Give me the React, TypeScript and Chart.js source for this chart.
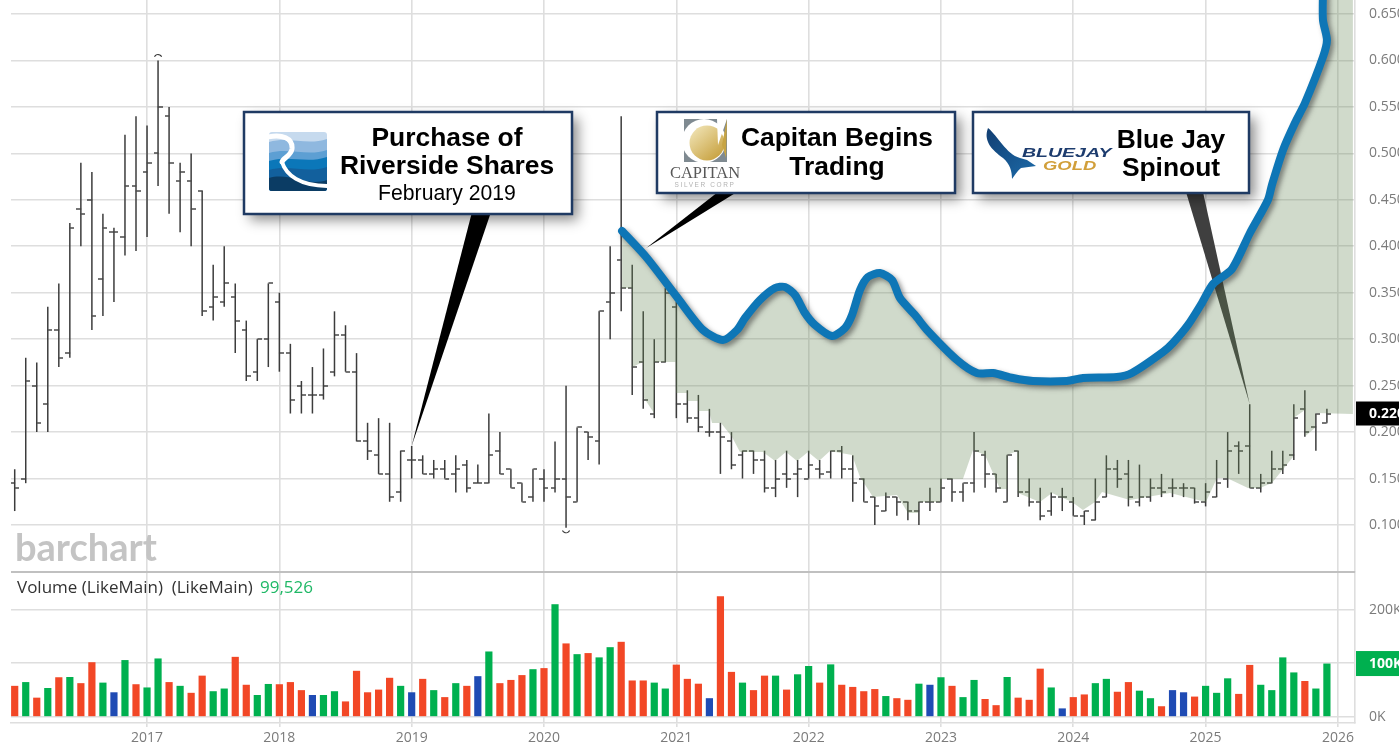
import React, { useEffect, useRef } from "react";
import { Chart, registerables } from "chart.js";

Chart.register(...registerables);

const firstYear = 2016;
const yearTicks = [2017, 2018, 2019, 2020, 2021, 2022, 2023, 2024, 2025, 2026];
const priceTicks = [0.1, 0.15, 0.2, 0.25, 0.3, 0.35, 0.4, 0.45, 0.5, 0.55, 0.6, 0.65];
const volumeTicks = [0, 100000, 200000];

const opens = [
  0.145, 0.15, 0.25, 0.23, 0.31, 0.285, 0.44, 0.45, 0.365, 0.415, 0.41, 0.465,
  0.48, 0.5, 0.54, 0.47, 0.47, 0.46, 0.335, 0.34, 0.345, 0.31, 0.265, 0.3,
  0.34, 0.285, 0.25, 0.24, 0.24, 0.265, 0.305, 0.265, 0.19, 0.175, 0.155, 0.135,
  0.17, 0.17, 0.155, 0.16, 0.155, 0.165, 0.145, 0.145, 0.18, 0.16, 0.145, 0.13,
  0.15, 0.14, 0.15, 0.125, 0.2, 0.19, 0.34, 0.385, 0.355, 0.275, 0.22, 0.275,
  0.335, 0.23, 0.215, 0.2, 0.2, 0.19, 0.175, 0.18, 0.17, 0.14, 0.155, 0.155,
  0.15, 0.16, 0.157, 0.18, 0.16, 0.15, 0.13, 0.115, 0.13, 0.125, 0.115, 0.125,
  0.125, 0.15, 0.135, 0.145, 0.175, 0.155, 0.125, 0.18, 0.135, 0.125, 0.115, 0.13,
  0.125, 0.11, 0.105, 0.13, 0.16, 0.155, 0.125, 0.13, 0.14, 0.14, 0.14, 0.14,
  0.125, 0.13, 0.15, 0.185, 0.185, 0.14, 0.145, 0.16, 0.175, 0.225, 0.205, 0.21,
];
const highs = [
  0.16, 0.28, 0.275, 0.335, 0.36, 0.425, 0.49, 0.48, 0.435, 0.42, 0.52, 0.54,
  0.53, 0.6, 0.55, 0.49, 0.5, 0.46, 0.38, 0.4, 0.36, 0.32, 0.3, 0.36,
  0.35, 0.295, 0.255, 0.27, 0.29, 0.33, 0.315, 0.285, 0.21, 0.215, 0.21, 0.18,
  0.185, 0.175, 0.17, 0.17, 0.175, 0.17, 0.165, 0.22, 0.2, 0.16, 0.145, 0.16,
  0.16, 0.19, 0.25, 0.205, 0.2, 0.33, 0.4, 0.54, 0.38, 0.33, 0.3, 0.355,
  0.34, 0.245, 0.24, 0.225, 0.21, 0.2, 0.18, 0.18, 0.18, 0.17, 0.18, 0.17,
  0.18, 0.17, 0.18, 0.185, 0.175, 0.15, 0.13, 0.135, 0.13, 0.125, 0.125, 0.14,
  0.15, 0.15, 0.145, 0.2, 0.18, 0.155, 0.175, 0.18, 0.15, 0.14, 0.135, 0.14,
  0.13, 0.115, 0.15, 0.175, 0.17, 0.17, 0.165, 0.15, 0.155, 0.15, 0.145, 0.14,
  0.145, 0.17, 0.2, 0.19, 0.23, 0.155, 0.18, 0.18, 0.23, 0.245, 0.22, 0.225,
];
const lows = [
  0.115, 0.145, 0.2, 0.2, 0.27, 0.28, 0.4, 0.31, 0.325, 0.34, 0.39, 0.395,
  0.41, 0.465, 0.435, 0.415, 0.4, 0.325, 0.32, 0.335, 0.285, 0.255, 0.255, 0.27,
  0.265, 0.22, 0.22, 0.22, 0.235, 0.26, 0.265, 0.19, 0.17, 0.155, 0.125, 0.125,
  0.15, 0.155, 0.15, 0.15, 0.135, 0.135, 0.145, 0.145, 0.155, 0.14, 0.125, 0.125,
  0.125, 0.135, 0.097, 0.125, 0.17, 0.165, 0.3, 0.33, 0.24, 0.225, 0.215, 0.275,
  0.215, 0.21, 0.2, 0.195, 0.155, 0.16, 0.15, 0.155, 0.135, 0.13, 0.14, 0.13,
  0.15, 0.15, 0.15, 0.15, 0.125, 0.125, 0.1, 0.115, 0.11, 0.105, 0.1, 0.115,
  0.125, 0.125, 0.125, 0.135, 0.14, 0.135, 0.125, 0.13, 0.12, 0.105, 0.11, 0.115,
  0.11, 0.1, 0.105, 0.13, 0.14, 0.12, 0.12, 0.125, 0.13, 0.13, 0.13, 0.123,
  0.12, 0.13, 0.14, 0.155, 0.14, 0.135, 0.145, 0.155, 0.17, 0.195, 0.18, 0.21,
];
const closes = [
  0.14, 0.255, 0.21, 0.31, 0.28, 0.42, 0.435, 0.325, 0.42, 0.415, 0.465, 0.46,
  0.49, 0.55, 0.49, 0.48, 0.44, 0.33, 0.345, 0.36, 0.32, 0.26, 0.3, 0.36,
  0.285, 0.235, 0.24, 0.24, 0.25, 0.305, 0.265, 0.19, 0.18, 0.155, 0.13, 0.18,
  0.17, 0.155, 0.16, 0.15, 0.16, 0.14, 0.145, 0.175, 0.155, 0.14, 0.125, 0.16,
  0.14, 0.15, 0.13, 0.205, 0.195, 0.33, 0.35, 0.355, 0.27, 0.235, 0.275, 0.35,
  0.23, 0.215, 0.205, 0.2, 0.195, 0.165, 0.18, 0.17, 0.14, 0.15, 0.15, 0.16,
  0.165, 0.155, 0.18, 0.16, 0.145, 0.125, 0.12, 0.13, 0.125, 0.115, 0.125, 0.125,
  0.14, 0.135, 0.145, 0.18, 0.155, 0.14, 0.175, 0.135, 0.125, 0.11, 0.13, 0.13,
  0.11, 0.115, 0.125, 0.16, 0.15, 0.13, 0.13, 0.14, 0.135, 0.14, 0.14, 0.125,
  0.135, 0.145, 0.18, 0.18, 0.14, 0.145, 0.16, 0.165, 0.215, 0.2, 0.22, 0.22,
];
const volumes = [
  58000, 65000, 36000, 54000, 74000, 74500, 63000, 102000, 64000, 46000, 106000, 61000,
  55000, 109000, 65000, 58000, 45000, 77000, 48000, 53000, 112000, 60000, 41000, 61500,
  61000, 65000, 50000, 41000, 41000, 48000, 29000, 86000, 46000, 51000, 73000, 58000,
  46000, 71000, 50000, 37000, 63000, 58000, 76000, 122000, 63000, 69000, 78000, 89000,
  91000, 210000, 137000, 117000, 119000, 111000, 130000, 140000, 68000, 68000, 64000, 53000,
  97500, 71000, 62000, 35000, 225000, 84000, 64000, 50000, 77000, 77000, 51000, 79500,
  95000, 64000, 98000, 60000, 56000, 48000, 52000, 39000, 35000, 32000, 62000, 60000,
  74000, 58000, 37000, 69000, 33500, 22000, 74500, 36000, 32000, 90000, 55000, 16000,
  37000, 42000, 63000, 71000, 47000, 65000, 49000, 35000, 20000, 50000, 46000, 38000,
  58000, 45000, 72000, 43000, 97000, 60000, 50000, 111000, 83000, 67000, 53000, 99526,
];
const volumeKindList = [
  "r", "g", "r", "g", "r", "g", "r", "r", "g", "b", "g", "r",
  "g", "g", "r", "g", "r", "r", "g", "g", "r", "r", "g", "g",
  "r", "r", "r", "b", "g", "g", "r", "r", "r", "r", "r", "g",
  "b", "r", "g", "r", "g", "r", "b", "g", "r", "r", "r", "g",
  "r", "g", "r", "g", "r", "g", "g", "r", "r", "r", "g", "g",
  "r", "r", "r", "b", "r", "r", "g", "r", "r", "g", "r", "g",
  "g", "r", "g", "r", "r", "r", "r", "g", "r", "r", "g", "b",
  "g", "r", "g", "g", "r", "r", "g", "r", "r", "r", "g", "b",
  "r", "r", "g", "g", "r", "r", "g", "g", "r", "b", "b", "r",
  "g", "g", "g", "r", "r", "g", "g", "g", "g", "r", "g", "g",
];

const trendYears = [
  2020.59, 2020.778, 2021.005, 2021.202, 2021.353, 2021.459, 2021.519, 2021.632, 2021.746, 2021.821,
  2021.897, 2021.972, 2022.048, 2022.176, 2022.275, 2022.328, 2022.388, 2022.448, 2022.539, 2022.63,
  2022.69, 2022.804, 2022.894, 2023.121, 2023.272, 2023.393, 2023.544, 2023.695, 2023.952, 2024.073,
  2024.33, 2024.443, 2024.678, 2024.753, 2024.867, 2024.972, 2025.056, 2025.199, 2025.335, 2025.471,
  2025.501, 2025.585, 2025.675, 2025.751, 2025.887, 2025.917, 2025.887, 2025.887,
];
const trendPrices = [
  0.4164, 0.3874, 0.3454, 0.3099, 0.2991, 0.3099, 0.3228, 0.3422, 0.3551, 0.3562,
  0.3476, 0.3282, 0.3153, 0.3034, 0.312, 0.326, 0.3529, 0.3669, 0.3712, 0.3637,
  0.3443, 0.326, 0.3099, 0.2776, 0.2636, 0.2636, 0.2582, 0.255, 0.255, 0.2582,
  0.2593, 0.2636, 0.2862, 0.2959, 0.3153, 0.3389, 0.3594, 0.3755, 0.4143, 0.4498,
  0.4659, 0.5036, 0.5327, 0.5542, 0.6037, 0.622, 0.6435, 0.6758,
];
const shadeTopYears = [2025.918, 2026.113];
const shadeTopPrices = [0.69, 0.69];
const shadeLowerYears = [
  2020.59, 2020.591, 2020.665, 2020.669, 2020.748, 2020.756, 2020.831, 2020.835, 2020.994, 2020.998,
  2021.081, 2021.088, 2021.164, 2021.171, 2021.247, 2021.27, 2021.338, 2021.421, 2021.481, 2021.655,
  2021.746, 2021.829, 2021.912, 2021.995, 2022.078, 2022.161, 2022.328, 2022.388, 2022.486, 2022.668,
  2022.751, 2022.826, 2022.834, 2022.993, 2023.008, 2023.166, 2023.242, 2023.333, 2023.446, 2023.499,
  2023.503, 2023.574, 2023.582, 2023.748, 2023.839, 2023.99, 2024.073, 2024.164, 2024.217, 2024.428,
  2024.731, 2025.003, 2025.086, 2025.161, 2025.32, 2025.411, 2025.501, 2025.66, 2025.664, 2025.751,
  2025.755, 2025.826, 2025.83, 2026.113,
];
const shadeLowerPrices = [
  0.4164, 0.3551, 0.3551, 0.2701, 0.2754, 0.2367, 0.2205, 0.2754, 0.2754, 0.2421,
  0.2421, 0.2335, 0.2335, 0.2227, 0.2227, 0.2098, 0.2098, 0.1947, 0.1786, 0.1786,
  0.1689, 0.1786, 0.1689, 0.1786, 0.1689, 0.1796, 0.1753, 0.1517, 0.1301, 0.1323,
  0.1129, 0.1129, 0.1248, 0.1248, 0.1495, 0.1495, 0.1807, 0.1753, 0.1387, 0.1387,
  0.1753, 0.1796, 0.1344, 0.1248, 0.1344, 0.1248, 0.1161, 0.1248, 0.1355, 0.1269,
  0.1344, 0.1248, 0.1506, 0.1506, 0.1398, 0.1398, 0.1452, 0.1732, 0.2152, 0.2238,
  0.1958, 0.2044, 0.2205, 0.2195,
];

const lastPriceLabel = "0.220";
const lastVolumeLabel = "100K";
const lastPrice = 0.22;
const lastVolume = 99526;
const volumeTitle = "Volume (LikeMain)  (LikeMain) ";
const volumeValueText = "99,526";

const C = {
  grid: "#dedede",
  tickText: "#7b7b7b",
  bar: "#3c3c3c",
  red: "#f24726",
  green: "#00b04f",
  blue: "#1f4bb4",
  trend: "#0e76b6",
  shade: "rgba(100,132,82,0.3)",
  navy: "#1f3a63",
};
const UI = "'Open Sans', sans-serif";
const BOLD = "'Liberation Sans', Arial, sans-serif";

const yearOf = (i: number) => firstYear + i / 12;

function tickSprite(left: boolean) {
  const c = document.createElement("canvas");
  c.width = 9;
  c.height = 2;
  const g = c.getContext("2d")!;
  g.fillStyle = C.bar;
  g.fillRect(left ? 0 : 4.5, 0.3, 4.5, 1.4);
  return c;
}

function roundedPath(ctx: CanvasRenderingContext2D, x: number, y: number, w: number, h: number, r: number) {
  ctx.beginPath();
  ctx.moveTo(x + r, y);
  ctx.arcTo(x + w, y, x + w, y + h, r);
  ctx.arcTo(x + w, y + h, x, y + h, r);
  ctx.arcTo(x, y + h, x, y, r);
  ctx.arcTo(x, y, x + w, y, r);
  ctx.closePath();
}

function drawBox(ctx: CanvasRenderingContext2D, x: number, y: number, w: number, h: number) {
  ctx.save();
  ctx.shadowColor = "rgba(0,0,0,0.45)";
  ctx.shadowBlur = 12;
  ctx.shadowOffsetX = 6;
  ctx.shadowOffsetY = 6;
  ctx.fillStyle = "#fff";
  ctx.fillRect(x, y, w, h);
  ctx.restore();
  ctx.strokeStyle = C.navy;
  ctx.lineWidth = 2.5;
  ctx.strokeRect(x, y, w, h);
}

function drawRiverside(ctx: CanvasRenderingContext2D) {
  const x = 269, y = 132, w = 58, h = 59;
  ctx.save();
  roundedPath(ctx, x, y, w, h, 3);
  ctx.clip();
  ctx.fillStyle = "#c6daee";
  ctx.fillRect(x, y, w, h);
  const bands: [number, number, string][] = [
    [142, 139, "#8fb8df"],
    [153, 150, "#5d9fd3"],
    [161, 157, "#0b77b9"],
    [170, 167, "#12609d"],
    [178, 180, "#0b3c64"],
  ];
  for (const [a, b, col] of bands) {
    ctx.beginPath();
    ctx.moveTo(x, a);
    ctx.bezierCurveTo(x + 20, a - 6, x + 38, b + 7, x + w, b);
    ctx.lineTo(x + w, y + h);
    ctx.lineTo(x, y + h);
    ctx.closePath();
    ctx.fillStyle = col;
    ctx.fill();
  }
  ctx.strokeStyle = "#fff";
  ctx.lineCap = "round";
  ctx.lineWidth = 5;
  ctx.beginPath();
  ctx.moveTo(268, 137);
  ctx.bezierCurveTo(282, 134, 293, 138, 292, 149);
  ctx.bezierCurveTo(291, 156, 283, 158, 282, 162);
  ctx.stroke();
  ctx.lineWidth = 4;
  ctx.beginPath();
  ctx.moveTo(282, 162);
  ctx.bezierCurveTo(286, 175, 300, 186, 328, 186);
  ctx.stroke();
  ctx.restore();
}

function drawCapitan(ctx: CanvasRenderingContext2D) {
  ctx.save();
  ctx.fillStyle = "#7f8a91";
  ctx.fillRect(684, 119, 43, 43);
  ctx.fillStyle = "#fff";
  ctx.beginPath();
  ctx.arc(704, 141, 22, 0, Math.PI * 2);
  ctx.fill();
  const gold = ctx.createLinearGradient(694, 125, 724, 160);
  gold.addColorStop(0, "#f1e5b8");
  gold.addColorStop(1, "#c39a32");
  ctx.fillStyle = gold;
  ctx.beginPath();
  ctx.arc(707, 143, 17.5, 0, Math.PI * 2);
  ctx.fill();
  ctx.fillStyle = "#fff";
  ctx.beginPath();
  ctx.moveTo(727, 119);
  ctx.lineTo(717, 119);
  ctx.lineTo(718, 145);
  ctx.closePath();
  ctx.fill();
  ctx.fillStyle = "#c7a443";
  ctx.beginPath();
  ctx.moveTo(727, 119);
  ctx.lineTo(722, 145);
  ctx.lineTo(726, 158);
  ctx.closePath();
  ctx.fill();
  ctx.textAlign = "center";
  ctx.textBaseline = "alphabetic";
  ctx.fillStyle = "#585858";
  ctx.font = "16.5px 'Liberation Serif', serif";
  ctx.fillText("CAPITAN", 705, 178, 72);
  ctx.fillStyle = "#b3b3b3";
  ctx.font = "6.5px 'Liberation Sans', sans-serif";
  (ctx as any).letterSpacing = "1.6px";
  ctx.fillText("SILVER CORP", 705, 187);
  (ctx as any).letterSpacing = "0px";
  ctx.restore();
}

function drawBlueJay(ctx: CanvasRenderingContext2D) {
  ctx.save();
  const g = ctx.createLinearGradient(988, 128, 1035, 178);
  g.addColorStop(0, "#123f73");
  g.addColorStop(1, "#1c6aa8");
  ctx.fillStyle = g;
  ctx.beginPath();
  ctx.moveTo(988, 128);
  ctx.bezierCurveTo(998, 136, 1006, 154, 1020, 158);
  ctx.lineTo(1027, 160);
  ctx.lineTo(1036, 166);
  ctx.lineTo(1021, 168);
  ctx.bezierCurveTo(1017, 171, 1015, 175, 1012, 179);
  ctx.bezierCurveTo(1012, 171, 1010, 164, 1003, 158);
  ctx.bezierCurveTo(992, 150, 983, 141, 988, 128);
  ctx.closePath();
  ctx.fill();
  ctx.textAlign = "left";
  ctx.textBaseline = "alphabetic";
  ctx.font = "italic bold 13px 'Liberation Sans', sans-serif";
  ctx.fillStyle = "#1d3c6e";
  ctx.save();
  ctx.translate(1022, 157);
  ctx.scale(1.5, 1);
  ctx.fillText("BLUEJAY", 0, 0);
  ctx.restore();
  ctx.fillStyle = "#d19f3a";
  ctx.save();
  ctx.translate(1043, 170);
  ctx.scale(1.42, 1);
  ctx.fillText("GOLD", 0, 0);
  ctx.restore();
  ctx.restore();
}

function boxLines(ctx: CanvasRenderingContext2D, cx: number, lines: [string, number, string][]) {
  ctx.textAlign = "center";
  ctx.textBaseline = "alphabetic";
  ctx.fillStyle = "#000";
  for (const [t, y, font] of lines) {
    ctx.font = font;
    ctx.fillText(t, cx, y);
  }
}

function wedge(
  ctx: CanvasRenderingContext2D,
  x1: number,
  x2: number,
  baseY: number,
  tipX: number,
  tipY: number,
  fill: string
) {
  ctx.fillStyle = fill;
  ctx.beginPath();
  ctx.moveTo(x1, baseY);
  ctx.lineTo(x2, baseY);
  ctx.lineTo(tipX, tipY);
  ctx.closePath();
  ctx.fill();
}

const TREND_DATASET = 5;

const overlay = {
  id: "overlay",
  beforeDatasetsDraw(chart: any) {
    const { ctx, scales } = chart;
    const { x, yPrice, yVol } = scales;
    ctx.save();
    ctx.fillStyle = "#c0c0c0";
    ctx.fillRect(x.left, yVol.top - 1, x.right - x.left, 2);
    wedge(ctx, 472, 491, 212, x.getPixelForValue(yearOf(36)), yPrice.getPixelForValue(highs[36]), "#000");
    wedge(ctx, 718, 737, 192, x.getPixelForValue(2020.77), yPrice.getPixelForValue(0.398), "#000");
    wedge(ctx, 1186, 1203, 192, x.getPixelForValue(yearOf(112)), yPrice.getPixelForValue(highs[112]), "#3f3f3f");
    ctx.fillStyle = "#c4c4c4";
    ctx.font = "bold 38px Lato, sans-serif";
    ctx.textAlign = "left";
    ctx.textBaseline = "alphabetic";
    ctx.fillText("barchart", 15, 561, 146);
    ctx.restore();
  },
  beforeDatasetDraw(chart: any, args: any) {
    if (args.index === TREND_DATASET) {
      const { ctx } = chart;
      ctx.save();
      ctx.shadowColor = "rgba(40,40,40,0.5)";
      ctx.shadowBlur = 5;
      ctx.shadowOffsetX = 3;
      ctx.shadowOffsetY = 3;
    }
  },
  afterDatasetDraw(chart: any, args: any) {
    if (args.index === TREND_DATASET) chart.ctx.restore();
  },
  afterDatasetsDraw(chart: any) {
    const { ctx, scales } = chart;
    const { x, yPrice, yVol } = scales;
    ctx.save();

    const hi = highs.indexOf(Math.max(...highs));
    const lo = lows.indexOf(Math.min(...lows));
    ctx.strokeStyle = "#333";
    ctx.lineWidth = 1.1;
    ctx.beginPath();
    ctx.arc(x.getPixelForValue(yearOf(hi)), yPrice.getPixelForValue(highs[hi]) - 2, 4, Math.PI * 1.15, Math.PI * 1.85);
    ctx.stroke();
    ctx.beginPath();
    ctx.arc(x.getPixelForValue(yearOf(lo)), yPrice.getPixelForValue(lows[lo]) + 1, 4, Math.PI * 0.15, Math.PI * 0.85);
    ctx.stroke();

    drawBox(ctx, 244, 112, 328, 102);
    drawBox(ctx, 657, 112, 298, 81);
    drawBox(ctx, 973, 112, 276, 81);
    drawRiverside(ctx);
    drawCapitan(ctx);
    drawBlueJay(ctx);
    const big = `bold 26.4px ${BOLD}`;
    boxLines(ctx, 447, [
      ["Purchase of", 146, big],
      ["Riverside Shares", 174, big],
      ["February 2019", 200, `21.2px ${BOLD}`],
    ]);
    boxLines(ctx, 837, [
      ["Capitan Begins", 146, big],
      ["Trading", 175, big],
    ]);
    boxLines(ctx, 1171, [
      ["Blue Jay", 148, big],
      ["Spinout", 176, big],
    ]);

    const px = yPrice.getPixelForValue(lastPrice);
    ctx.fillStyle = "#000";
    ctx.fillRect(1356, px - 12, 43, 24);
    ctx.fillStyle = "#fff";
    ctx.font = `bold 14px ${UI}`;
    ctx.textAlign = "left";
    ctx.textBaseline = "middle";
    ctx.fillText(lastPriceLabel, 1369, px + 0.5);
    const vy = yVol.getPixelForValue(lastVolume);
    ctx.fillStyle = C.green;
    ctx.fillRect(1356, vy - 12.5, 43, 25);
    ctx.fillStyle = "#fff";
    ctx.fillText(lastVolumeLabel, 1369, vy + 0.5);

    ctx.textBaseline = "alphabetic";
    ctx.fillStyle = "#333";
    ctx.font = `17px ${UI}`;
    ctx.fillText(volumeTitle, 17, 593);
    ctx.fillStyle = "#1fb866";
    ctx.fillText(volumeValueText, 260, 593);
    ctx.restore();
  },
};

export default function App() {
  const ref = useRef<HTMLCanvasElement>(null);

  useEffect(() => {
    const idx = opens.map((_, i) => i);
    const kindColor: Record<string, string> = { r: C.red, g: C.green, b: C.blue };
    const fixWidth = (a: any) => {
      a.width = 44;
      a.paddingTop = 0;
      a.paddingBottom = 0;
    };
    const chart = new Chart(ref.current!, {
      type: "bar",
      data: {
        datasets: [
          {
            type: "bar",
            yAxisID: "yPrice",
            order: 10,
            grouped: false,
            barThickness: 1.5,
            backgroundColor: C.bar,
            borderWidth: 0,
            inflateAmount: 0,
            data: idx.map((i) => ({ x: yearOf(i), y: [lows[i], highs[i]] })),
          },
          {
            type: "scatter",
            yAxisID: "yPrice",
            order: 9,
            pointStyle: tickSprite(true),
            pointRadius: 3,
            data: idx.map((i) => ({ x: yearOf(i), y: opens[i] })),
          },
          {
            type: "scatter",
            yAxisID: "yPrice",
            order: 9,
            pointStyle: tickSprite(false),
            pointRadius: 3,
            data: idx.map((i) => ({ x: yearOf(i), y: closes[i] })),
          },
          {
            type: "line",
            yAxisID: "yPrice",
            order: 8,
            borderWidth: 0,
            pointRadius: 0,
            tension: 0,
            fill: false,
            data: shadeLowerYears.map((v, i) => ({ x: v, y: shadeLowerPrices[i] })),
          },
          {
            type: "line",
            yAxisID: "yPrice",
            order: 7,
            borderWidth: 0,
            pointRadius: 0,
            tension: 0,
            backgroundColor: C.shade,
            fill: 3,
            data: [
              ...trendYears.slice(0, 46).map((v, i) => ({ x: v, y: trendPrices[i] })),
              ...shadeTopYears.map((v, i) => ({ x: v, y: shadeTopPrices[i] })),
            ],
          },
          {
            type: "line",
            yAxisID: "yPrice",
            order: 1,
            borderColor: C.trend,
            borderWidth: 8,
            borderCapStyle: "round",
            borderJoinStyle: "round",
            pointRadius: 0,
            tension: 0.25,
            fill: false,
            data: trendYears.map((v, i) => ({ x: v, y: trendPrices[i] })),
          },
          {
            type: "bar",
            yAxisID: "yVol",
            order: 11,
            grouped: false,
            barThickness: 7.2,
            borderWidth: 0,
            inflateAmount: 0,
            backgroundColor: volumeKindList.map((k) => kindColor[k]),
            data: idx.map((i) => ({ x: yearOf(i), y: volumes[i] })),
          },
        ],
      } as any,
      options: {
        animation: false,
        responsive: false,
        events: [],
        layout: { autoPadding: false, padding: { left: 11, right: 0, top: 0, bottom: 0 } },
        plugins: { legend: { display: false }, tooltip: { enabled: false } },
        scales: {
          x: {
            type: "linear",
            position: "bottom",
            offset: false,
            min: 2015.972,
            max: 2026.129,
            grid: { offset: false, color: C.grid, lineWidth: 1.6, tickLength: 4, tickColor: C.grid },
            border: { display: true, color: C.grid, width: 1.6 },
            afterBuildTicks: (a: any) => {
              a.ticks = yearTicks.map((value) => ({ value }));
            },
            afterFit: (a: any) => {
              a.height = 27;
              a.paddingLeft = 0;
              a.paddingRight = 0;
            },
            ticks: {
              autoSkip: false,
              maxRotation: 0,
              padding: 3,
              color: C.tickText,
              font: { family: "'Open Sans'", size: 14 },
              callback: (v: any) => String(v),
            },
          },
          yPrice: {
            axis: "y",
            type: "linear",
            position: "right",
            stack: "panes",
            stackWeight: 572,
            weight: 1,
            min: 0.0494,
            max: 0.6651,
            beginAtZero: false,
            grid: { color: C.grid, lineWidth: 1.6, drawTicks: false },
            border: { display: true, color: C.grid, width: 1.6 },
            afterBuildTicks: (a: any) => {
              a.ticks = priceTicks.map((value) => ({ value }));
            },
            afterFit: fixWidth,
            ticks: {
              autoSkip: false,
              padding: 14,
              color: C.tickText,
              font: { family: "'Open Sans'", size: 14 },
              callback: (v: any) => Number(v).toFixed(3),
            },
          },
          yVol: {
            axis: "y",
            type: "linear",
            position: "right",
            stack: "panes",
            stackWeight: 151,
            weight: 2,
            min: -11200,
            max: 270000,
            beginAtZero: false,
            grid: { color: C.grid, lineWidth: 1.6, drawTicks: false },
            border: { display: true, color: C.grid, width: 1.6 },
            afterBuildTicks: (a: any) => {
              a.ticks = volumeTicks.map((value) => ({ value }));
            },
            afterFit: fixWidth,
            ticks: {
              autoSkip: false,
              padding: 14,
              color: C.tickText,
              font: { family: "'Open Sans'", size: 14 },
              callback: (v: any) => `${Number(v) / 1000}K`,
            },
          },
        },
      } as any,
      plugins: [overlay],
    });
    return () => chart.destroy();
  }, []);

  return (
    <div style={{ position: "absolute", left: 0, top: 0, width: 1399, height: 750, overflow: "hidden", background: "#fff" }}>
      <canvas ref={ref} width={1399} height={750} style={{ display: "block", width: 1399, height: 750 }} />
    </div>
  );
}
